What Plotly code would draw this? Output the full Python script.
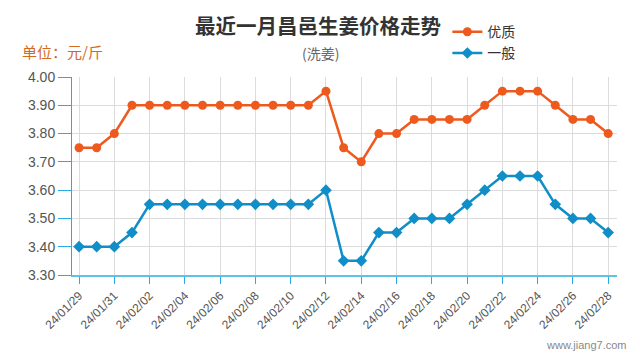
import plotly.graph_objects as go

dates = ["24/01/29", "24/01/30", "24/01/31"] + ["24/02/%02d" % d for d in range(1, 29)]
premium = [3.75, 3.75, 3.80, 3.90, 3.90, 3.90, 3.90, 3.90, 3.90, 3.90, 3.90, 3.90, 3.90, 3.90,
           3.95, 3.75, 3.70, 3.80, 3.80, 3.85, 3.85, 3.85, 3.85, 3.90, 3.95, 3.95, 3.95,
           3.90, 3.85, 3.85, 3.80]
general = [3.40, 3.40, 3.40, 3.45, 3.55, 3.55, 3.55, 3.55, 3.55, 3.55, 3.55, 3.55, 3.55, 3.55,
           3.60, 3.35, 3.35, 3.45, 3.45, 3.50, 3.50, 3.50, 3.55, 3.60, 3.65, 3.65, 3.65,
           3.55, 3.50, 3.50, 3.45]
tick_labels = dates[::2]
y_ticks = [3.30, 3.40, 3.50, 3.60, 3.70, 3.80, 3.90, 4.00]

ORANGE = "#ee5a1e"
BLUE = "#108ec8"
FONT = "Liberation Sans, Arial, Noto Sans CJK SC"

fig = go.Figure()
fig.add_trace(go.Scatter(x=dates, y=premium, name="优质", mode="lines+markers",
                         line=dict(color=ORANGE, width=2.5),
                         marker=dict(symbol="circle", size=9, color=ORANGE)))
fig.add_trace(go.Scatter(x=dates, y=general, name="一般", mode="lines+markers",
                         line=dict(color=BLUE, width=2.5),
                         marker=dict(symbol="diamond", size=9, color=BLUE)))

fig.update_layout(
    width=640, height=360,
    margin=dict(l=72, r=23, t=77, b=85, autoexpand=False),
    paper_bgcolor="white", plot_bgcolor="white",
    font=dict(family=FONT, color="#555"),
    showlegend=True,
    legend=dict(xref="container", yref="container", x=0.699, y=0.955,
                xanchor="left", yanchor="top",
                font=dict(size=14, color="#333", family="Noto Sans CJK SC"),
                itemwidth=30, tracegroupgap=0, bgcolor="rgba(0,0,0,0)"),
    xaxis=dict(type="category", categoryorder="array", categoryarray=dates,
               range=[-0.4, 30.5], tickvals=tick_labels, ticktext=tick_labels,
               tickangle=-45, tickfont=dict(size=12, color="#555"),
               showgrid=True, gridcolor="#dcdcdc", gridwidth=1,
               showline=True, linecolor="#5bc4e8", linewidth=2,
               ticks="outside", ticklen=7, tickcolor="#29abe2", tickwidth=1,
               zeroline=False),
    yaxis=dict(range=[3.30, 4.00], tickvals=y_ticks, tickformat=".2f",
               tickfont=dict(size=14, color="#555"),
               showgrid=True, gridcolor="#dcdcdc", gridwidth=1,
               showline=True, linecolor="#29abe2", linewidth=1,
               ticks="outside", ticklen=13, tickcolor="#29abe2", tickwidth=1,
               zeroline=False),
)

fig.add_annotation(text="<b>最近一月昌邑生姜价格走势</b>", xref="paper", yref="paper",
                   x=(318 - 72) / 545, y=1 + (77 - 25) / 198, showarrow=False,
                   xanchor="center", yanchor="middle",
                   font=dict(size=20.5, color="#333", family="Noto Sans CJK SC"))
fig.add_annotation(text="(洗姜)", xref="paper", yref="paper",
                   x=(320 - 72) / 545, y=1 + (77 - 53) / 198, showarrow=False,
                   xanchor="center", yanchor="middle",
                   font=dict(size=14, color="#666", family="Noto Sans CJK SC"))
fig.add_annotation(text="单位：元/斤", xref="paper", yref="paper", xanchor="left",
                   yanchor="middle",
                   x=(20 - 72) / 545, y=1 + (77 - 52) / 198, showarrow=False,
                   font=dict(size=15, color="#d2691e", family="Noto Sans CJK SC"))
fig.add_annotation(text="www.jiang7.com", xref="paper", yref="paper", xanchor="right",
                   yanchor="middle",
                   x=(628 - 72) / 545, y=-(345 - 275) / 198, showarrow=False,
                   font=dict(size=11, color="#888", family=FONT))

fig.write_html("out.html", config={"displayModeBar": False},
               post_script="document.body.style.margin='0';")
